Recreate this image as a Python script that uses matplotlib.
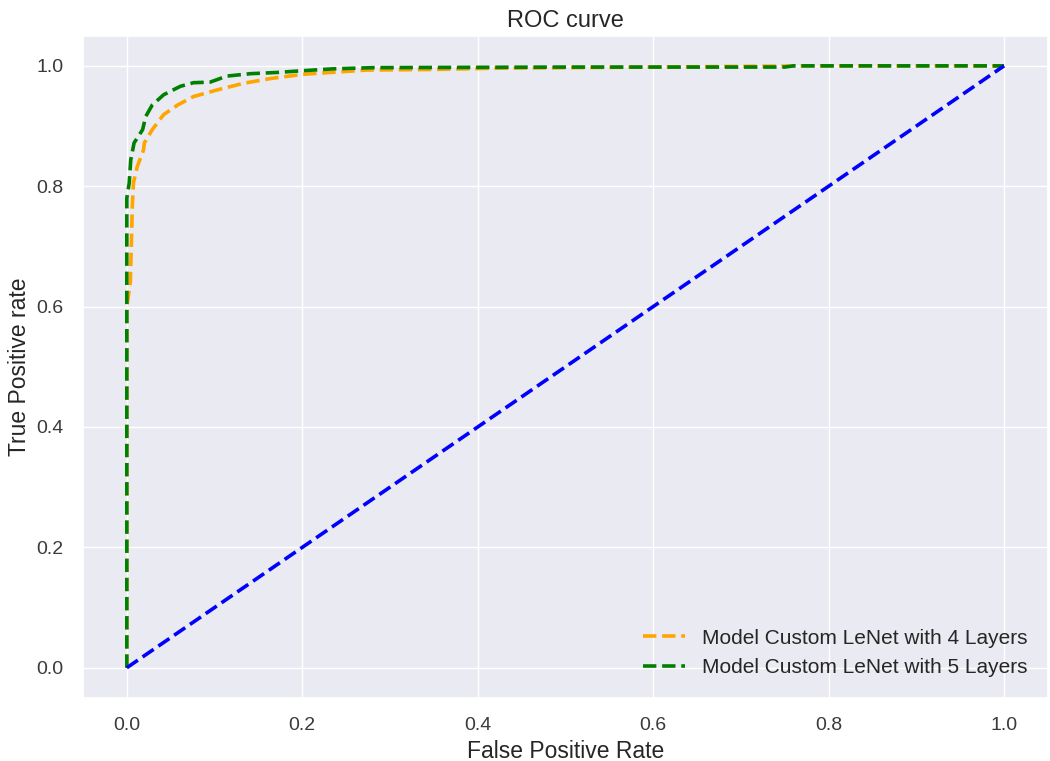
import matplotlib
matplotlib.use("Agg")
import matplotlib.pyplot as plt
import seaborn as sns

sns.set_theme(style="darkgrid")
plt.rcParams['font.family'] = ['Liberation Sans', 'DejaVu Sans']

fpr_4 = [0.0, 0.0, 0.002, 0.004, 0.0064, 0.0076, 0.012, 0.019, 0.020, 0.029, 0.042, 0.058, 0.076,
         0.103, 0.133, 0.164, 0.201, 0.273, 0.35, 0.417, 0.6, 0.78, 1.0]
tpr_4 = [0.0, 0.60, 0.62, 0.64, 0.772, 0.806, 0.833, 0.86, 0.872, 0.894, 0.919, 0.935, 0.949,
         0.960, 0.971, 0.979, 0.986, 0.993, 0.994, 0.996, 0.998, 1.0, 1.0]

fpr_5 = [0.0, 0.0, 0.0027, 0.0045, 0.0083, 0.018, 0.0216, 0.029, 0.042, 0.061, 0.076, 0.095,
         0.114, 0.141, 0.171, 0.201, 0.235, 0.28, 0.5, 0.75, 0.76, 1.0]
tpr_5 = [0.0, 0.78, 0.805, 0.844, 0.872, 0.894, 0.916, 0.935, 0.952, 0.966, 0.972, 0.973,
         0.983, 0.987, 0.989, 0.992, 0.995, 0.997, 0.998, 0.998, 1.0, 1.0]

chance = [0.0, 1.0]

fig = plt.figure(figsize=(10.5, 7.61), dpi=100)
ax = fig.add_axes([0.079, 0.083, 0.919, 0.870])

ax.plot(fpr_4, tpr_4, linestyle='--', color='orange', lw=2.6, label='Model Custom LeNet with 4 Layers')
ax.plot(fpr_5, tpr_5, linestyle='--', color='green', lw=2.6, label='Model Custom LeNet with 5 Layers')
ax.plot(chance, chance, linestyle='--', color='blue', lw=2.6)

ax.set_xlim(-0.05, 1.05)
ax.set_ylim(-0.05, 1.05)
ax.tick_params(labelsize=14, colors='#3a3a3a', pad=8)
ax.set_title('ROC curve', fontsize=17, pad=6, color='#262626')
ax.set_xlabel('False Positive Rate', fontsize=16.5, labelpad=4, color='#262626')
ax.set_ylabel('True Positive rate', fontsize=16.5, labelpad=4, color='#262626')
ax.legend(loc='lower right', fontsize=15, frameon=False, borderaxespad=0.6)

fig.savefig('out.png', dpi=100)
